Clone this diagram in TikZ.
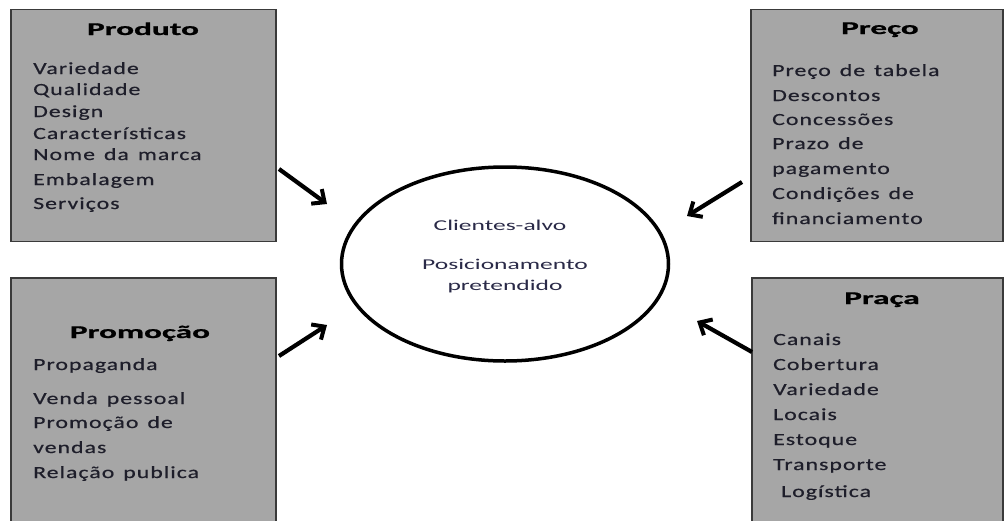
\documentclass[tikz,border=0pt]{standalone}
\usepackage{fontspec}
\setmainfont{Carlito}
\newfontfamily\itemfont[FakeStretch=1.4,LetterSpace=6,WordSpace=1.4,FakeBold=0.6]{Carlito}
\newfontfamily\titlefont[FakeStretch=1.85,FakeBold=0.8]{Carlito}
\newfontfamily\circfont[FakeStretch=1.7]{Carlito}
\usetikzlibrary{arrows.meta,shapes.geometric}
\definecolor{boxgray}{HTML}{A6A6A6}
\definecolor{boxline}{HTML}{3A3A3A}
\definecolor{txt}{HTML}{1E1E2A}
\definecolor{ctxt}{HTML}{2A2A48}
\begin{document}
\begin{tikzpicture}[x=1pt,y=-1pt,
  mixbox/.style={draw=boxline, line width=1.5pt, fill=boxgray, rectangle, inner sep=0pt},
  boxtitle/.style={anchor=base, inner sep=0pt, text=black, font=\titlefont\bfseries\fontsize{18}{21}\selectfont},
  item/.style={anchor=base west, inner sep=0pt, text=txt, font=\itemfont\fontsize{17}{20}\selectfont},
  ctext/.style={anchor=base, inner sep=0pt, text=ctxt, font=\circfont\fontsize{15}{18}\selectfont},
  bigarrow/.style={line width=4.2pt, -{Straight Barb[length=10pt,width=18pt,line width=4pt]}, black}
]
\useasboundingbox (0,0) rectangle (1005,520);
\clip (0,0) rectangle (1005,520);
\fill[white] (0,0) rectangle (1005,520);

% boxes
\node[mixbox, minimum width=265pt, minimum height=232pt] (produto) at (143.5,125.5) {};
\node[mixbox, minimum width=252pt, minimum height=232pt] (preco) at (877,125.5) {};
\node[mixbox, minimum width=265pt, minimum height=250pt] (promocao) at (143.5,403) {};
\node[mixbox, minimum width=251pt, minimum height=250pt] (praca) at (877.5,403) {};

% circle
\node[draw, ellipse, line width=3.5pt, minimum width=327pt, minimum height=194pt] (alvo) at (505,264) {};
\node[ctext] (c1) at (500,230) {Clientes-alvo};
\node[ctext] (c2) at (505,269) {Posicionamento};
\node[ctext] (c3) at (505,290) {pretendido};

% Produto
\node[boxtitle] (tprod) at (143,35) {Produto};
\node[item] (p1) at (33,74) {Variedade};
\node[item] (p2) at (33,95) {Qualidade};
\node[item] (p3) at (33,117) {Design};
\node[item] (p4) at (33,139) {Características};
\node[item] (p5) at (33,160) {Nome da marca};
\node[item] (p6) at (33,185) {Embalagem};
\node[item] (p7) at (33,209) {Serviços};

% Preco
\node[boxtitle] (tpreco) at (880,34) {Preço};
\node[item] (q1) at (772,76) {Preço de tabela};
\node[item] (q2) at (772,101) {Descontos};
\node[item] (q3) at (772,125) {Concessões};
\node[item] (q4) at (772,149) {Prazo de};
\node[item] (q5) at (772,174) {pagamento};
\node[item] (q6) at (772,199) {Condições de};
\node[item] (q7) at (772,224) {financiamento};

% Promocao
\node[boxtitle] (tpromo) at (140,338) {Promoção};
\node[item] (r1) at (33,370) {Propaganda};
\node[item] (r2) at (33,404) {Venda pessoal};
\node[item] (r3) at (33,428) {Promoção de};
\node[item] (r4) at (33,453) {vendas};
\node[item] (r5) at (33,478) {Relação publica};

% Praca
\node[boxtitle] (tpraca) at (882,304) {Praça};
\node[item] (s1) at (773,345) {Canais};
\node[item] (s2) at (773,370) {Cobertura};
\node[item] (s3) at (773,395) {Variedade};
\node[item] (s4) at (773,420) {Locais};
\node[item] (s5) at (773,445) {Estoque};
\node[item] (s6) at (773,470) {Transporte};
\node[item] (s7) at (781,497) {Logística};

% arrows
\coordinate (a1s) at (279,169);
\coordinate (a1e) at (327,204);
\coordinate (a2s) at (742,182);
\coordinate (a2e) at (687,216);
\coordinate (a3s) at (279,356);
\coordinate (a3e) at (327,325);
\coordinate (a4s) at (752,352);
\coordinate (a4e) at (697,321);
\draw[bigarrow] (a1s) -- (a1e);
\draw[bigarrow] (a2s) -- (a2e);
\draw[bigarrow] (a3s) -- (a3e);
\draw[bigarrow] (a4s) -- (a4e);
\end{tikzpicture}
\end{document}
